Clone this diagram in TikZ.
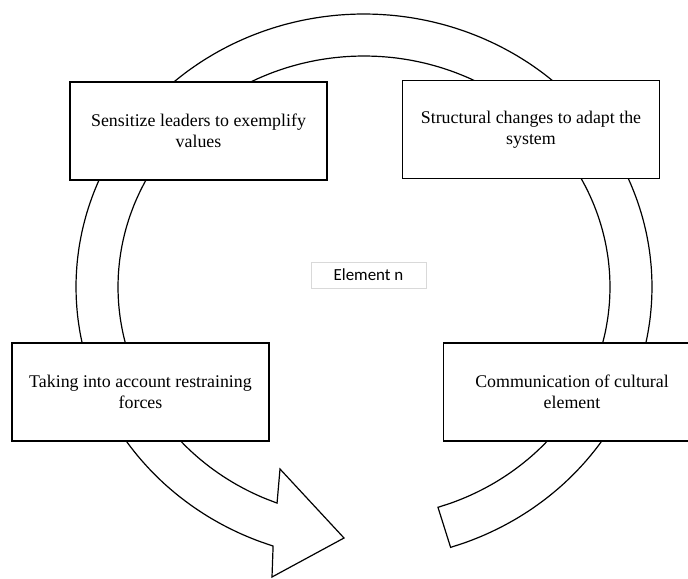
\documentclass[tikz,border=0pt]{standalone}
\usepackage{fontspec}
\setmainfont{Liberation Serif}
\newfontfamily\calibrifont{Carlito}

\begin{document}
\begin{tikzpicture}[x = 0.75pt, y = -0.75pt,
  stagebox/.style = {draw, line width = 0.9pt, fill = white, minimum width = 192.75pt, minimum height = 73.5pt, align = center, font = \fontsize{13.4}{15.8}\selectfont},
  elembox/.style = {draw = black!15, line width = 0.5pt, minimum width = 86pt, minimum height = 19.5pt, font = \calibrifont\fontsize{12.7}{14}\selectfont}]
\useasboundingbox (0,0) rectangle (688,578);
%画布大小(688 x 578)
\draw[line width = 0.9pt, fill = white] plot[smooth, domain = 72.5:-251.6, samples = 90] ({364 + 288*cos(\x)},{287 + 273*sin(\x)}) -- (272,577) -- (344,538) -- (280,469) -- plot[smooth, domain = -249.3:72.5, samples = 90] ({364 + 246*cos(\x)},{287 + 231*sin(\x)}) -- cycle;
%绘制(draw)环形箭头:外圈(rx = 288, ry = 273),箭头,内圈(rx = 246, ry = 231),闭合(cycle)
\node[stagebox] (sensitize) at (198.5,131) {Sensitize leaders to exemplify\\values};
\node[stagebox] (structural) at (531,129.5) {Structural changes to adapt the\\system};
\node[stagebox] (restraining) at (140.5,392) {Taking into account restraining\\forces};
\node[stagebox] (communication) at (572,392) {Communication of cultural\\element};
%四个方框(stagebox),白色填充盖住箭头
\node[elembox] (element) at (368.5,275) {Element n};
%中间的文字(Element n),浅灰色边框
\end{tikzpicture}
\end{document}
